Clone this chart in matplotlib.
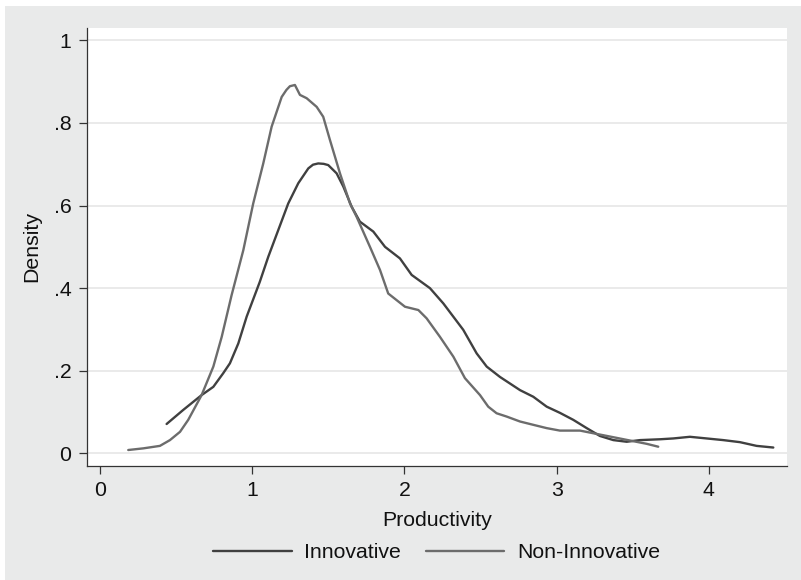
import matplotlib
matplotlib.use("Agg")
import matplotlib.pyplot as plt
from matplotlib.patches import Rectangle

plt.rcParams["font.family"] = ["Liberation Sans", "DejaVu Sans"]

# Kernel density estimates of productivity
innov_x = [0.438, 0.547, 0.668, 0.745, 0.810, 0.854, 0.909, 0.964, 1.050, 1.106,
           1.172, 1.237, 1.303, 1.369, 1.400, 1.434, 1.470, 1.500, 1.555, 1.599,
           1.654, 1.708, 1.796, 1.873, 1.971, 2.048, 2.168, 2.256, 2.387, 2.475,
           2.541, 2.628, 2.760, 2.847, 2.935, 3.022, 3.110, 3.198, 3.285, 3.373,
           3.461, 3.548, 3.679, 3.767, 3.876, 3.986, 4.095, 4.205, 4.314, 4.424]
innov_y = [0.071, 0.105, 0.141, 0.161, 0.194, 0.218, 0.266, 0.331, 0.415, 0.476,
           0.541, 0.605, 0.654, 0.690, 0.699, 0.702, 0.701, 0.698, 0.678, 0.646,
           0.597, 0.561, 0.537, 0.500, 0.472, 0.432, 0.400, 0.363, 0.299, 0.242,
           0.210, 0.185, 0.153, 0.137, 0.113, 0.098, 0.081, 0.061, 0.042, 0.032,
           0.028, 0.032, 0.034, 0.036, 0.040, 0.036, 0.032, 0.027, 0.018, 0.014]

noninnov_x = [0.186, 0.285, 0.394, 0.460, 0.526, 0.580, 0.668, 0.745, 0.800, 0.865,
              0.942, 1.007, 1.073, 1.128, 1.194, 1.225, 1.248, 1.281, 1.314, 1.358,
              1.424, 1.467, 1.511, 1.577, 1.643, 1.686, 1.774, 1.840, 1.894, 2.004,
              2.092, 2.146, 2.234, 2.322, 2.398, 2.497, 2.551, 2.606, 2.672, 2.760,
              2.847, 2.935, 3.022, 3.154, 3.263, 3.373, 3.482, 3.592, 3.668]
noninnov_y = [0.008, 0.012, 0.018, 0.032, 0.052, 0.081, 0.141, 0.210, 0.282, 0.383,
              0.492, 0.605, 0.702, 0.791, 0.863, 0.880, 0.889, 0.892, 0.868, 0.860,
              0.839, 0.815, 0.759, 0.678, 0.605, 0.573, 0.500, 0.444, 0.387, 0.355,
              0.347, 0.327, 0.282, 0.234, 0.182, 0.141, 0.113, 0.097, 0.089, 0.077,
              0.069, 0.061, 0.055, 0.055, 0.047, 0.039, 0.031, 0.023, 0.016]

x_ticks = [0, 1, 2, 3, 4]
x_tick_labels = ["0", "1", "2", "3", "4"]
y_ticks = [0, 0.2, 0.4, 0.6, 0.8, 1.0]
y_tick_labels = ["0", ".2", ".4", ".6", ".8", "1"]
series_names = ["Innovative", "Non-Innovative"]

W, H = 801, 580
fig = plt.figure(figsize=(W / 100, H / 100), dpi=100, facecolor="white")

# graph region background
bg = "#e9eaea"
fig.patches.append(Rectangle((5 / W, 0), 1 - 5 / W, 1 - 6 / H,
                             transform=fig.transFigure, facecolor=bg,
                             edgecolor="none", zorder=-10))

left, right = 86.7 / W, 786.7 / W
bottom, top = 1 - 465.7 / H, 1 - 28 / H
ax = fig.add_axes([left, bottom, right - left, top - bottom])
ax.set_facecolor("white")

ax.plot(innov_x, innov_y, color="#404040", lw=1.7, label=series_names[0],
        solid_joinstyle="round", solid_capstyle="round", zorder=3)
ax.plot(noninnov_x, noninnov_y, color="#6c6c6c", lw=1.7, label=series_names[1],
        solid_joinstyle="round", solid_capstyle="round", zorder=3)

ax.set_xlim(-0.087, 4.512)
ax.set_ylim(-0.030, 1.030)

ax.set_xticks(x_ticks)
ax.set_xticklabels(x_tick_labels)
ax.set_yticks(y_ticks)
ax.set_yticklabels(y_tick_labels)

ax.grid(axis="y", color="#e8e8e8", lw=1.3, zorder=0)
ax.set_axisbelow(True)

for s in ["top", "right"]:
    ax.spines[s].set_visible(False)
for s in ["left", "bottom"]:
    ax.spines[s].set_color("#333333")
    ax.spines[s].set_linewidth(0.9)

ax.tick_params(axis="both", direction="out", length=6, width=0.9,
               color="#333333", labelsize=15.3, labelcolor="#111111", pad=5)

ax.set_xlabel("Productivity", fontsize=15.3, color="#111111", labelpad=8)
ax.set_ylabel("Density", fontsize=15.3, color="#111111", labelpad=9)

handles, labels = ax.get_legend_handles_labels()
fig.legend(handles, labels, loc="center", ncol=2, frameon=False,
           bbox_to_anchor=((left + right) / 2, 1 - 552.5 / H),
           fontsize=15.3, handlelength=3.7, handletextpad=0.6,
           columnspacing=1.15, labelcolor="#111111")

fig.savefig("out.png", dpi=100, facecolor="white")
